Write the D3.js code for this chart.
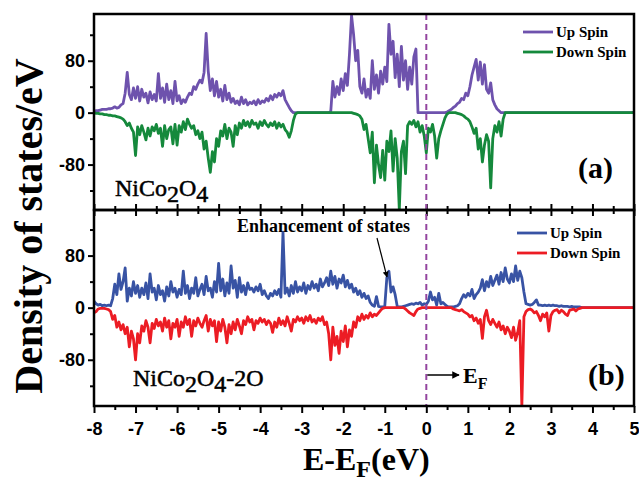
<!DOCTYPE html>
<html>
<head>
<meta charset="utf-8">
<script src="https://cdn.jsdelivr.net/npm/d3@7"></script>
<style>
  body { margin: 0; background: #fff; }
  svg text { font-family: "Liberation Serif", "Times New Roman", serif; fill: #000; }
  .axis text { font-family: "Liberation Sans", Arial, sans-serif; font-weight: bold; font-size: 18px; }
  .axis line { stroke: #000; stroke-width: 2; }
  .axis path { display: none; }
</style>
</head>
<body>
<svg id="chart" width="639" height="485"></svg>
<script>
// energy grid of the DOS samples (eV)
const E_START = -8, E_STEP = 0.05;

// NiCo2O4, panel (a)
const upSpinA = [
  2,3,3,4,5,5,5,6,6,7,9,7,8,12,14,30,62,28,20,38,
  22,40,18,36,24,30,15,32,20,28,18,60,22,38,16,44,20,34,14,48,
  18,26,14,20,16,24,30,28,40,36,44,50,46,62,122,64,34,52,26,48,
  24,36,18,42,20,30,16,22,14,18,12,24,14,20,12,16,14,18,12,20,
  14,18,16,22,18,26,20,28,24,30,26,34,20,14,8,3,0,0,0,0,
  0,0,0,0,0,0,0,0,0,0,0,0,0,0,2,48,24,40,28,52,
  34,60,42,90,150,120,80,96,40,30,52,24,36,22,80,36,58,30,64,44,
  70,48,136,90,110,54,90,40,102,50,80,36,70,44,86,98,0,0,0,0,
  0,0,0,0,0,0,0,0,0,0,1,3,5,8,10,14,16,22,20,30,
  26,40,58,70,82,50,78,44,74,36,30,46,20,12,6,3,0,0,0,0,
  0,0,0,0,0,0,0,0,0,0,0,0,0,0,0,0,0,0,0,0,
  0,0,0,0,0,0,0,0,0,0,0,0,0,0,0,0,0,0,0,0,
  0,0,0,0,0,0,0,0,0,0,0,0,0,0,0,0,0,0,0,0,
  1
];
const downSpinA = [
  0,-1,-1,-2,-2,-3,-3,-4,-4,-5,-5,-6,-7,-8,-10,-14,-20,-16,-24,-30,
  -66,-22,-34,-20,-30,-42,-24,-36,-22,-28,-18,-32,-24,-52,-20,-40,-26,-22,-48,-18,
  -50,-20,-30,-14,-26,-10,-18,-24,-20,-34,-28,-40,-30,-56,-44,-70,-92,-60,-76,-40,
  -52,-28,-36,-18,-40,-24,-30,-52,-20,-34,-16,-24,-12,-20,-14,-22,-12,-18,-16,-24,
  -14,-20,-12,-18,-22,-16,-20,-14,-24,-16,-22,-18,-26,-30,-38,-28,-12,-2,0,0,
  0,0,0,0,0,0,0,0,0,0,0,0,0,0,0,0,0,0,0,0,
  0,0,0,0,0,-1,-2,-3,-5,-10,-26,-18,-40,-62,-30,-108,-50,-80,-100,-58,
  -104,-44,-60,-28,-90,-40,-70,-149,-60,-44,-94,-20,-14,-18,-12,-22,-14,-30,-20,-36,
  -62,-24,-30,-18,-36,-70,-40,-28,-18,-8,-2,0,0,0,0,-1,-2,-3,-5,-8,
  -10,-14,-22,-32,-24,-56,-40,-76,-50,-34,-44,-116,-40,-20,-30,-14,-36,-10,0,0,
  0,0,0,0,0,0,0,0,0,0,0,0,0,0,0,0,0,0,0,0,
  0,0,0,0,0,0,0,0,0,0,0,0,0,0,0,0,0,0,0,0,
  0,0,0,0,0,0,0,0,0,0,0,0,0,0,0,0,0,0,0,0,
  0
];

// NiCo2O4-2O, panel (b)
const upSpinB = [
  10,6,4,5,3,4,3,4,3,14,36,20,52,28,40,61,10,30,18,40,
  22,34,16,30,20,38,14,52,24,30,12,34,20,26,10,32,18,40,24,30,
  16,28,20,56,22,34,14,30,22,46,18,28,36,20,48,26,30,16,40,24,
  68,26,44,18,38,22,64,30,42,16,46,24,34,20,38,28,30,24,32,26,
  36,20,26,18,14,22,18,26,20,28,16,116,22,30,18,34,22,40,24,32,
  26,38,22,34,28,40,30,36,26,44,32,38,46,34,56,36,48,30,44,38,
  50,32,42,30,36,24,30,20,26,16,22,14,18,8,4,2,17,2,1,1,
  2,46,56,24,32,20,2,1,1,2,3,4,5,6,5,7,6,8,4,6,
  5,10,24,12,16,4,22,6,8,5,2,1,1,1,2,3,6,14,20,16,
  22,18,28,14,20,24,30,43,26,40,32,48,34,42,50,36,54,40,61,44,
  38,52,40,64,42,56,46,24,6,5,4,5,8,12,4,4,3,4,3,4,
  3,4,3,3,2,3,2,2,2,1,2,1,1,1,1,0,0,0,0,0,
  0,0,0,0,0,0,0,0,0,0,0,0,0,0,0,0,0,0,0,0,
  0
];
const downSpinB = [
  -8,-6,-2,-1,-1,-1,-2,-3,-6,-18,-12,-30,-22,-34,-26,-40,-30,-60,-36,-48,
  -80,-40,-54,-28,-36,-20,-30,-54,-24,-32,-18,-28,-22,-36,-16,-30,-20,-48,-24,-30,
  -18,-44,-22,-30,-14,-26,-18,-44,-20,-28,-16,-24,-30,-20,-12,-36,-18,-28,-20,-52,
  -22,-36,-18,-30,-54,-26,-40,-22,-34,-18,-28,-40,-20,-26,-14,-22,-18,-34,-20,-24,
  -16,-22,-18,-26,-20,-24,-38,-22,-30,-16,-26,-20,-28,-14,-24,-36,-18,-22,-14,-20,
  -16,-24,-14,-20,-12,-22,-18,-24,-16,-20,-14,-26,-22,-40,-80,-30,-58,-44,-70,-36,
  -52,-28,-60,-34,-44,-22,-30,-14,-20,-10,-18,-12,-16,-8,-14,-10,-12,-8,-4,-1,
  0,0,0,0,0,0,0,0,0,0,-2,-5,-8,-10,-12,-6,-2,-1,0,0,
  0,0,0,0,0,0,0,0,0,0,0,0,0,-2,-3,-4,-5,-3,-6,-8,
  -10,-14,-12,-20,-16,-24,-18,-47,-14,-4,-20,-26,-18,-24,-30,-22,-34,-28,-40,-30,
  -36,-46,-30,-50,-38,-20,-151,-14,-6,-3,-2,-4,-8,-6,-12,-20,-10,-14,-8,-36,
  -12,-6,-4,-3,-8,-4,-6,-10,-12,-4,-3,-2,-5,-2,-1,0,0,0,0,0,
  0,0,0,0,0,0,0,0,0,0,0,0,0,0,0,0,0,0,0,0,
  0
];

const xTicks = [-8,-7,-6,-5,-4,-3,-2,-1,0,1,2,3,4,5];
const xMinorTicks = [-7.5,-6.5,-5.5,-4.5,-3.5,-2.5,-1.5,-0.5,0.5,1.5,2.5,3.5,4.5];
const yTicks = [-80,0,80];
const yMinorTicks = [-120,-40,40,120];
const legendLabels = ['Up Spin', 'Down Spin'];

[upSpinA, downSpinA, upSpinB, downSpinB].forEach(a => {
  if (a.length !== 261) throw new Error('series length ' + a.length);
});

const svg = d3.select('#chart');
const left = 94, right = 634;

const x = d3.scaleLinear().domain([-8, 5]).range([left, right]);

const panels = [
  { id: 'a', top: 14, bottom: 210, domain: [-150, 152], up: upSpinA, down: downSpinA,
    upColor: '#6e52ad', downColor: '#15893c', legendX: 523, legendY: 32 },
  { id: 'b', top: 210, bottom: 406, domain: [-151, 150], up: upSpinB, down: downSpinB,
    upColor: '#3853a4', downColor: '#ec1c24', legendX: 517, legendY: 233 }
];

const defs = svg.append('defs');
defs.append('marker')
    .attr('id', 'arrow')
    .attr('viewBox', '0 0 10 10')
    .attr('refX', 9).attr('refY', 5)
    .attr('markerWidth', 5).attr('markerHeight', 5)
    .attr('orient', 'auto')
  .append('path')
    .attr('d', 'M0,0L10,5L0,10z')
    .attr('fill', '#000');

panels.forEach(p => {
  const y = d3.scaleLinear().domain(p.domain).range([p.bottom, p.top]);

  defs.append('clipPath').attr('id', 'clip-' + p.id)
    .append('rect')
      .attr('x', left).attr('y', p.top)
      .attr('width', right - left).attr('height', p.bottom - p.top);

  const line = d3.line()
      .x((d, i) => x(E_START + i * E_STEP))
      .y(d => y(d));

  const g = svg.append('g').attr('clip-path', 'url(#clip-' + p.id + ')');
  g.append('path').datum(p.up)
      .attr('d', line).attr('fill', 'none')
      .attr('stroke', p.upColor).attr('stroke-width', 2.8)
      .attr('stroke-linejoin', 'round');
  g.append('path').datum(p.down)
      .attr('d', line).attr('fill', 'none')
      .attr('stroke', p.downColor).attr('stroke-width', 2.8)
      .attr('stroke-linejoin', 'round');

  // y axis, major + minor
  svg.append('g').attr('class', 'axis')
      .attr('transform', 'translate(' + left + ',0)')
      .call(d3.axisLeft(y).tickValues(yTicks).tickSize(6).tickPadding(3).tickFormat(d => String(d)));
  svg.append('g').attr('class', 'axis')
      .attr('transform', 'translate(' + left + ',0)')
      .call(d3.axisLeft(y).tickValues(yMinorTicks).tickSize(4).tickFormat(''));

  // legend
  [p.upColor, p.downColor].forEach((c, i) => {
    const ly = p.legendY + i * 20;
    svg.append('line')
        .attr('x1', p.legendX).attr('x2', p.legendX + 30)
        .attr('y1', ly).attr('y2', ly)
        .attr('stroke', c).attr('stroke-width', 2.8);
    svg.append('text')
        .attr('x', p.legendX + 33).attr('y', ly + 5)
        .attr('font-size', 15).attr('font-weight', 'bold')
        .text(legendLabels[i]);
  });
});

// x ticks: inward on the shared middle edge, outward at the bottom
svg.append('g').attr('class', 'axis')
    .attr('transform', 'translate(0,210)')
    .call(d3.axisTop(x).tickValues(xTicks).tickSize(6).tickFormat(''));
svg.append('g').attr('class', 'axis')
    .attr('transform', 'translate(0,210)')
    .call(d3.axisTop(x).tickValues(xMinorTicks).tickSize(4).tickFormat(''));
svg.append('g').attr('class', 'axis')
    .attr('transform', 'translate(0,210)')
    .call(d3.axisBottom(x).tickValues(xTicks).tickSize(6).tickFormat(''));
svg.append('g').attr('class', 'axis')
    .attr('transform', 'translate(0,210)')
    .call(d3.axisBottom(x).tickValues(xMinorTicks).tickSize(4).tickFormat(''));
svg.append('g').attr('class', 'axis')
    .attr('transform', 'translate(0,406)')
    .call(d3.axisBottom(x).tickValues(xTicks).tickSize(7).tickPadding(9).tickFormat(d => String(d)));
svg.append('g').attr('class', 'axis')
    .attr('transform', 'translate(0,406)')
    .call(d3.axisBottom(x).tickValues(xMinorTicks).tickSize(4).tickFormat(''));

// Fermi level
svg.append('line')
    .attr('x1', x(0)).attr('x2', x(0))
    .attr('y1', 14).attr('y2', 406)
    .attr('stroke', '#93459f').attr('stroke-width', 2)
    .attr('stroke-dasharray', '6,4');

// frames
panels.forEach(p => {
  svg.append('rect')
      .attr('x', left).attr('y', p.top)
      .attr('width', right - left).attr('height', p.bottom - p.top)
      .attr('fill', 'none').attr('stroke', '#000').attr('stroke-width', 2.5);
});

// panel labels
svg.append('text').attr('x', 578).attr('y', 178)
    .attr('font-size', 30).attr('font-weight', 'bold').text('(a)');
svg.append('text').attr('x', 588).attr('y', 385)
    .attr('font-size', 30).attr('font-weight', 'bold').text('(b)');

// compound names
const nameA = svg.append('text').attr('x', 115).attr('y', 196).attr('font-size', 24)
    .attr('stroke', '#000').attr('stroke-width', 0.5);
nameA.append('tspan').text('NiCo');
nameA.append('tspan').attr('dy', 6).text('2');
nameA.append('tspan').attr('dy', -6).text('O');
nameA.append('tspan').attr('dy', 6).text('4');

const nameB = svg.append('text').attr('x', 133).attr('y', 386).attr('font-size', 24)
    .attr('stroke', '#000').attr('stroke-width', 0.5);
nameB.append('tspan').text('NiCo');
nameB.append('tspan').attr('dy', 6).text('2');
nameB.append('tspan').attr('dy', -6).text('O');
nameB.append('tspan').attr('dy', 6).text('4');
nameB.append('tspan').attr('dy', -6).text('-2O');

// annotations
svg.append('text').attr('x', 237).attr('y', 232)
    .attr('font-size', 18).attr('font-weight', 'bold').text('Enhancement of states');
svg.append('line')
    .attr('x1', 377).attr('y1', 238).attr('x2', 387).attr('y2', 277)
    .attr('stroke', '#000').attr('stroke-width', 1.2)
    .attr('marker-end', 'url(#arrow)');

svg.append('line')
    .attr('x1', x(0) + 1).attr('y1', 375).attr('x2', 459).attr('y2', 375)
    .attr('stroke', '#000').attr('stroke-width', 1.5)
    .attr('marker-end', 'url(#arrow)');
const ef = svg.append('text').attr('x', 463).attr('y', 383)
    .attr('font-size', 22).attr('font-weight', 'bold');
ef.append('tspan').text('E');
ef.append('tspan').attr('dy', 6).attr('font-size', 16).text('F');

// axis titles
svg.append('text')
    .attr('transform', 'translate(42,226) rotate(-90)')
    .attr('text-anchor', 'middle')
    .attr('font-size', 40).attr('font-weight', 'bold')
    .text('Density of states/eV');

const xt = svg.append('text').attr('x', 303).attr('y', 470)
    .attr('font-size', 32).attr('font-weight', 'bold');
xt.append('tspan').text('E-E');
xt.append('tspan').attr('dy', 7).attr('font-size', 24).text('F');
xt.append('tspan').attr('dy', -7).text('(eV)');
</script>
</body>
</html>
